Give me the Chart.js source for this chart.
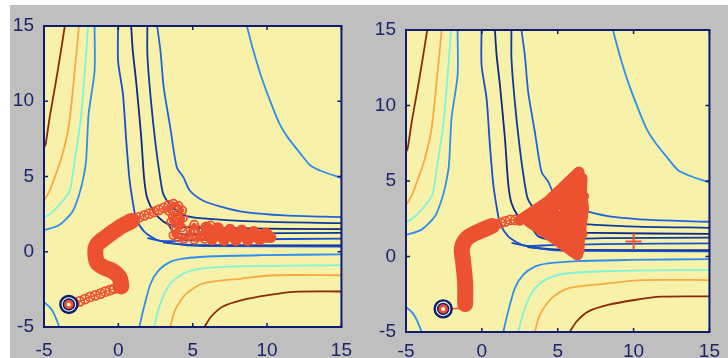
<!DOCTYPE html>
<html>
<head>
<meta charset="utf-8">
<script src="https://cdn.jsdelivr.net/npm/chart.js@4.4.0/dist/chart.umd.min.js"></script>
<style>
  html, body { margin: 0; padding: 0; background: #fff; width: 728px; height: 358px; overflow: hidden; }
  #fig { position: absolute; left: 10px; top: 5px; width: 718px; height: 353px; background: #bfbfbf; }
  canvas { position: absolute; top: 0; }
  #c1 { left: 0; }
  #c2 { left: 364px; }
</style>
</head>
<body>
<div id="fig"></div>
<canvas id="c1" width="364" height="358"></canvas>
<canvas id="c2" width="364" height="358"></canvas>
<script>
// axis ticks (both panels)
var tickValues = [-5, 0, 5, 10, 15];

// contour lines, [x, y]
var cRedTL    = [[-3.6,15],[-3.86,13.35],[-4.19,11.36],[-4.62,8.93],[-4.89,7.16],[-5,6.9]];
var cOrangeTL = [[-2.65,15],[-2.87,12.68],[-3.31,8.49],[-3.75,6.5],[-4.19,5.18],[-4.6,4.1],[-5,3.4]];
var cCyanTL   = [[-2.04,15],[-2.2,12.68],[-2.54,8.71],[-2.87,6.5],[-3.13,4.74],[-3.31,3.98],[-3.97,3.1],[-4.6,2.5],[-5,2.28]];
var cLBlueTL  = [[-1.6,15],[-1.6,12.0],[-2.0,9.15],[-2.17,6.06],[-2.39,4.74],[-2.65,3.76],[-3.09,2.66],[-3.97,1.78],[-5,1.43]];
var cLBlueBL  = [[-5,-3.35],[-4.6,-3.7],[-4.3,-4.18],[-3.97,-5]];
var cLBlueTR  = [[8.64,15],[9.08,13.35],[9.63,11.58],[10.29,9.81],[10.84,8.49],[11.39,7.6],[12.26,6.5],[12.92,5.73],[13.69,5.35],[15,4.9]];
var cLBlueBR  = [[1.41,-5],[1.73,-3.65],[2.17,-2.11],[2.72,-1.22],[3.49,-0.67],[4.37,-0.45],[6.34,-0.3],[9.63,-0.23],[15,-0.17]];
var cCyanBR   = [[2.39,-5],[2.83,-3.43],[3.49,-2.11],[4.37,-1.45],[5.68,-1.11],[8.53,-0.96],[15,-0.89]];
var cOrangeBR = [[3.49,-5],[3.82,-3.87],[4.59,-2.77],[5.68,-2.11],[8.31,-1.78],[10.51,-1.56],[15,-1.56]];
var cRedBR    = [[5.79,-5],[6.23,-4.32],[7.0,-3.65],[8.31,-3.21],[10.07,-2.88],[11.82,-2.66],[15,-2.64]];
var cBlue5    = [[-0.02,15],[-0.02,12.68],[0.31,10.47],[0.53,7.38],[0.75,4.8],[0.97,3.32],[1.19,2.22],[1.74,1.34],[2.61,0.78],[4.37,0.45],[5.68,0.38],[15,0.34]];
var cNavy6    = [[0.86,15],[0.97,13.35],[1.19,11.36],[1.52,7.83],[1.74,4.8],[1.95,3.54],[2.39,2.66],[3.05,2.0],[3.93,1.67],[7.44,1.56],[15,1.5]];
var cNavy7    = [[1.95,15],[1.95,13.12],[2.17,10.26],[2.5,7.16],[2.83,4.8],[3.05,3.76],[3.71,2.88],[4.37,2.44],[5.68,2.22],[9.63,2.0],[15,1.9]];
var cBlue8    = [[2.61,15],[2.83,13.35],[3.05,10.92],[3.49,8.27],[3.93,5.62],[4.37,4.96],[4.8,4.07],[5.68,3.41],[7.0,2.97],[8.53,2.64],[11.16,2.42],[15,2.3]];
var cNavyE    = [[3.3,1.9],[3.7,1.35],[4.5,1.15],[8,1.22],[15,1.25]];
var cBlueF    = [[1.95,0.9],[3.0,0.7],[4.5,0.75],[8,0.82],[15,0.87]];
var cNavyG    = [[3.0,0.62],[4.5,0.48],[6,0.44],[15,0.42]];

// left panel path
var leftStart   = [[-3.33,-3.5]];
var leftTail    = [[-3.33,-3.5],[-2.95,-3.45],[-2.6,-3.3],[-2.25,-3.15],[-1.9,-3.0],[-1.55,-2.9],[-1.2,-2.78],[-0.88,-2.65],[-0.57,-2.55],[-0.28,-2.45],[0.0,-2.35],[0.25,-2.25]];
var leftBand    = [[0.2,-2.3],[0.1,-1.75],[-0.35,-1.3],[-0.95,-1.05],[-1.4,-0.75],[-1.55,-0.15],[-1.45,0.45],[-0.8,1.0],[0.05,1.6],[0.9,2.05]];
var leftMid     = [[1.1,2.15],[1.41,2.3],[1.75,2.42],[2.07,2.53],[2.4,2.64],[2.72,2.78],[3.05,2.92],[3.38,3.08]];
var leftCluster = [[3.4,2.7],[3.7,3.2],[4.05,3.05],[4.3,2.75],[4.0,2.5],[3.65,2.35],[3.55,2.0],[3.9,1.85],[4.35,2.25],[4.25,1.6],[3.85,1.4],[3.7,1.1],[4.05,0.95],[4.4,0.85],[4.75,1.05],[4.85,1.45],[5.1,1.8],[5.35,1.45],[5.5,1.05],[5.1,0.8],[5.8,0.85],[5.95,1.35],[6.2,1.75],[6.4,1.1]];
var leftTip     = [[5.9,1.65],[6.3,0.8],[6.7,1.6],[7.1,0.75],[7.5,1.5],[7.9,0.75],[8.3,1.45],[8.7,0.75],[9.1,1.35],[9.5,0.8],[9.9,1.25],[10.25,0.95],[8.0,1.1],[6.0,1.2]];

// right panel path
var rightStart   = [[-2.55,-3.47]];
var rightTail    = [[-2.55,-3.47],[-1.3,-3.42]];
var rightBand    = [[-1.1,-3.15],[-1.1,-1.77],[-1.25,-0.23],[-1.32,0.54],[-0.99,1.2],[-0.22,1.64],[0.66,2.02]];
var rightMid     = [[0.95,2.12],[1.25,2.22],[1.55,2.32],[1.86,2.42],[2.2,2.42]];
var rightCluster = [[2.5,2.4],[4.3,3.6],[6.4,5.6],[6.7,3.2],[6.3,0.1],[4.6,1.3],[3.1,2.3],[4.6,3.0],[6.2,5.1],[6.5,2.6],[5.9,0.6],[4.4,1.7],[5.4,2.5],[6.1,4.4],[5.3,3.5],[6.6,1.5],[5.1,1.4],[5.9,2.0],[6.4,0.4],[6.6,5.2],[5.8,4.9],[5.5,4.2],[6.7,4.0],[5.6,1.1],[3.6,2.1],[4.2,2.5],[5.0,2.0],[3.8,2.8],[5.3,0.9],[6.0,2.9],[4.9,2.6]];
var rightTarget  = [[10,1]];

var plotBg = '#f8f1aa';
var navy = '#0f1d6e';
var orangeRed = '#ec5230';

var contours = [
  [cRedTL, '#8c2a0c'], [cOrangeTL, '#f7aa40'], [cCyanTL, '#80f3da'], [cLBlueTL, '#2c8ff0'],
  [cLBlueBL, '#2c8ff0'], [cLBlueTR, '#2c8ff0'], [cLBlueBR, '#2c8ff0'], [cCyanBR, '#80f3da'],
  [cOrangeBR, '#f7aa40'], [cRedBR, '#8c2a0c'], [cBlue5, '#1650d0'], [cNavy6, '#0b2a88'],
  [cNavy7, '#0d3a9e'], [cBlue8, '#1e62de'], [cNavyE, '#0d3a9e'], [cBlueF, '#1650d0'], [cNavyG, '#0b2a88']
];

function pts(arr) {
  return arr.map(function (p) { return { x: p[0], y: p[1] }; });
}

var frame = {
  id: 'frame',
  beforeDraw: function (chart) {
    var a = chart.chartArea, c = chart.ctx;
    c.save();
    c.fillStyle = plotBg;
    c.fillRect(a.left, a.top, a.right - a.left, a.bottom - a.top);
    c.restore();
  },
  afterDatasetsDraw: function (chart) {
    var a = chart.chartArea, c = chart.ctx;
    var xs = chart.scales.x, ys = chart.scales.y;
    c.save();
    c.strokeStyle = navy;
    c.lineWidth = 2;
    c.strokeRect(a.left, a.top, a.right - a.left, a.bottom - a.top);
    c.lineWidth = 1.5;
    c.beginPath();
    tickValues.forEach(function (v) {
      var px = xs.getPixelForValue(v), py = ys.getPixelForValue(v);
      c.moveTo(px, a.bottom); c.lineTo(px, a.bottom - 4);
      c.moveTo(px, a.top); c.lineTo(px, a.top + 4);
      c.moveTo(a.left, py); c.lineTo(a.left + 4, py);
      c.moveTo(a.right, py); c.lineTo(a.right - 4, py);
    });
    c.stroke();
    c.restore();
  }
};

function makeChart(id, p) {
  var ds = [];
  // start marker (top)
  ds.push({ data: pts(p.start), pointRadius: 3, borderWidth: 2, borderColor: orangeRed, backgroundColor: '#fff3d8', pointStyle: 'circle' });
  ds.push({ data: pts(p.start), pointRadius: 5.5, borderWidth: 1.5, borderColor: navy, backgroundColor: orangeRed });
  ds.push({ data: pts(p.start), pointRadius: 8.5, borderWidth: 2.4, borderColor: navy, backgroundColor: '#ffffff' });
  if (p.target) {
    ds.push({ data: pts(p.target), pointStyle: 'cross', pointRadius: 8, borderWidth: 2, borderColor: orangeRed });
  }
  ds.push({ data: pts(p.tail), showLine: true, borderWidth: 1.5, borderColor: orangeRed,
            pointRadius: p.tailRadius, pointBorderWidth: 1.8, pointBorderColor: orangeRed, pointBackgroundColor: 'rgba(0,0,0,0)' });
  ds.push({ data: pts(p.band), showLine: true, borderWidth: p.bandWidth, borderColor: orangeRed, pointRadius: 0,
            borderCapStyle: 'round', borderJoinStyle: 'round', tension: 0.3 });
  ds.push({ data: pts(p.mid), showLine: true, borderWidth: 1.5, borderColor: orangeRed,
            pointRadius: 4.5, pointBorderWidth: 1.8, pointBorderColor: orangeRed, pointBackgroundColor: 'rgba(0,0,0,0)' });
  ds.push({ data: pts(p.cluster), showLine: p.clusterLine > 0, borderWidth: p.clusterLine, borderColor: orangeRed,
            borderCapStyle: 'round', borderJoinStyle: 'round',
            pointRadius: 4, pointBorderWidth: 1.8, pointBorderColor: orangeRed, pointBackgroundColor: 'rgba(0,0,0,0)' });
  if (p.tip) {
    ds.push({ data: pts(p.tip), showLine: true, borderWidth: 11, borderColor: orangeRed, pointRadius: 0,
              borderCapStyle: 'round', borderJoinStyle: 'round' });
  }
  contours.forEach(function (c) {
    ds.push({ data: pts(c[0]), showLine: true, borderColor: c[1], borderWidth: 1.8, pointRadius: 0, tension: 0.25, clip: 0 });
  });

  return new Chart(document.getElementById(id), {
    type: 'scatter',
    data: { datasets: ds },
    options: {
      responsive: false,
      animation: false,
      events: [],
      layout: { padding: { top: p.top, right: p.right, left: 0, bottom: 0 } },
      plugins: { legend: { display: false }, tooltip: { enabled: false } },
      scales: {
        x: {
          type: 'linear', min: -5, max: 15,
          grid: { display: false, drawTicks: false },
          border: { display: false },
          afterBuildTicks: function (s) { s.ticks = tickValues.map(function (v) { return { value: v }; }); },
          afterFit: function (s) { s.height = p.xh; },
          ticks: { padding: p.xpad, color: '#1c2466', font: { family: 'Liberation Sans', size: 19 } }
        },
        y: {
          type: 'linear', min: -5, max: 15,
          grid: { display: false, drawTicks: false },
          border: { display: false },
          afterBuildTicks: function (s) { s.ticks = tickValues.map(function (v) { return { value: v }; }); },
          afterFit: function (s) { s.width = p.yw; },
          ticks: { padding: 10, color: '#1c2466', font: { family: 'Liberation Sans', size: 19 } }
        }
      }
    },
    plugins: [frame]
  });
}

makeChart('c1', {
  start: leftStart, tail: leftTail, tailRadius: 4.5, band: leftBand, bandWidth: 16,
  mid: leftMid, cluster: leftCluster, clusterLine: 4, tip: leftTip,
  top: 26, right: 16, yw: 44, xh: 31, xpad: 12
});

makeChart('c2', {
  start: rightStart, tail: rightTail, tailRadius: 0, band: rightBand, bandWidth: 16,
  mid: rightMid, cluster: rightCluster, clusterLine: 11, tip: null, target: rightTarget,
  top: 30, right: 18, yw: 42, xh: 26, xpad: 8
});
</script>
</body>
</html>
